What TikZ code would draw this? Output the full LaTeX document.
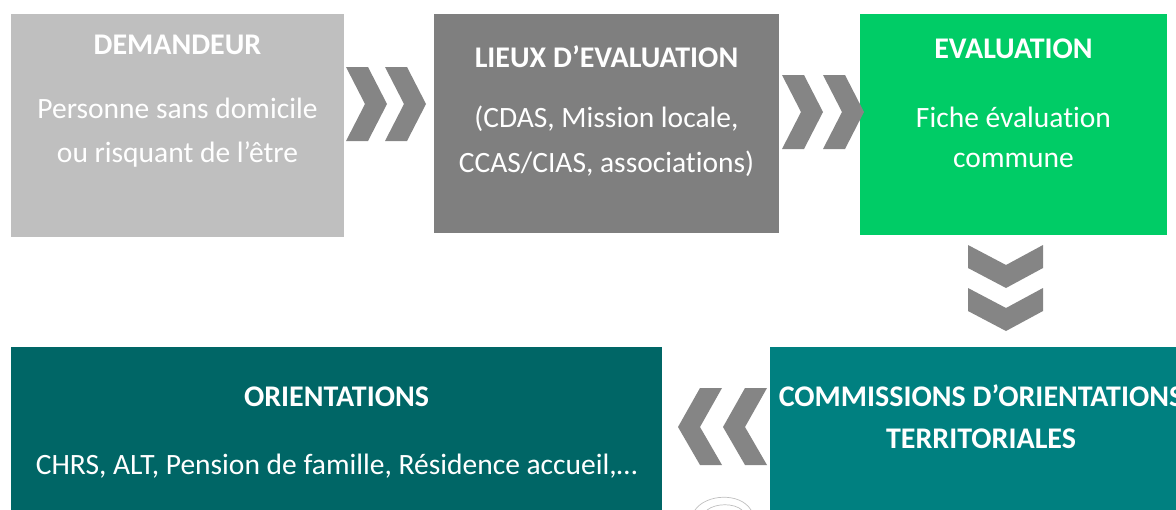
\documentclass[tikz,border=0pt]{standalone}
\usepackage{fontspec}
\setmainfont{Carlito}[Ligatures=NoCommon]
\definecolor{boxA}{HTML}{BFBFBF}
\definecolor{boxB}{HTML}{7F7F7F}
\definecolor{boxC}{HTML}{00CC66}
\definecolor{boxD}{HTML}{006666}
\definecolor{boxE}{HTML}{008080}
\definecolor{chevcol}{HTML}{858585}
\tikzset{
  box/.style={rectangle, inner sep=0pt, anchor=north west},
  head/.style={anchor=base, text=white, inner sep=0pt, font=\fontsize{30}{30}\selectfont\bfseries},
  body/.style={anchor=base, text=white, inner sep=0pt, font=\fontsize{29.5}{29.5}\selectfont},
  chev/.style={fill=chevcol},
  chevright/.pic={\fill[chev] (0,0) -- (22,0) -- (41,37) -- (22,74) -- (0,74) -- (19,37) -- cycle;},
  chevleft/.pic={\fill[chev] (22,0) -- (44,0) -- (22,39) -- (44,77) -- (22,77) -- (0,39) -- cycle;},
  chevdown/.pic={\fill[chev] (0,0) -- (38,20) -- (75,0) -- (75,23) -- (38,43) -- (0,23) -- cycle;}
}
\begin{document}
\begin{tikzpicture}[x=1pt,y=-1pt]
\useasboundingbox (0,0) rectangle (1176,509);
\clip (0,0) rectangle (1176,509);
% boxes
\node[box, fill=boxA, minimum width=333pt, minimum height=223pt] (dem) at (11,14) {};
\node[box, fill=boxB, minimum width=345pt, minimum height=219pt] (lieux) at (434,14) {};
\node[box, fill=boxC, minimum width=307pt, minimum height=221pt] (eval) at (860,14) {};
\node[box, fill=boxD, minimum width=651pt, minimum height=180pt] (orient) at (11,347) {};
\node[box, fill=boxE, minimum width=422pt, minimum height=180pt] (comm) at (770,347) {};
% texts
\node[head] (t1) at (177.5,54) {DEMANDEUR};
\node[body] (t1a) at (177.5,118) {Personne sans domicile};
\node[body] (t1b) at (177.5,162) {ou risquant de l’être};
\node[head] (t2) at (606.5,67) {LIEUX D’EVALUATION};
\node[body] (t2a) at (606.5,127) {(CDAS, Mission locale,};
\node[body] (t2b) at (606.5,172) {CCAS/CIAS, associations)};
\node[head] (t3) at (1013.5,58) {EVALUATION};
\node[body] (t3a) at (1013.5,127) {Fiche évaluation};
\node[body] (t3b) at (1013.5,167) {commune};
\node[head] (t4) at (336.5,406) {ORIENTATIONS};
\node[body] (t4a) at (336.5,474) {CHRS, ALT, Pension de famille, Résidence accueil,…};
\node[head] (t5) at (981,406) {COMMISSIONS D’ORIENTATIONS};
\node[head] (t5a) at (981,448) {TERRITORIALES};
% chevrons
\pic at (346,67) {chevright};
\pic at (385,67) {chevright};
\pic at (782,75) {chevright};
\pic at (823,75) {chevright};
\pic at (968,245) {chevdown};
\pic at (968,288) {chevdown};
\pic at (678,388) {chevleft};
\pic at (723,388) {chevleft};
% faint arcs
\draw[black!25, line width=0.7pt] (695,510) .. controls (706,494) and (740,492) .. (751,510);
\draw[black!25, line width=0.7pt] (707,510) .. controls (716,503) and (734,503) .. (742,510);
\end{tikzpicture}
\end{document}
